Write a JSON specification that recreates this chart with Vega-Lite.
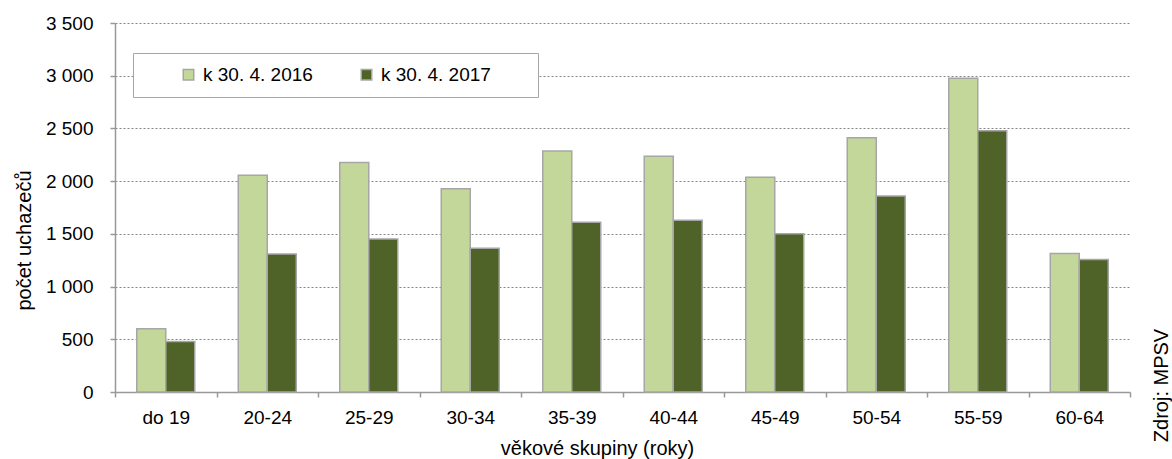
{
  "$schema": "https://vega.github.io/schema/vega-lite/v6.json",
  "width": 1015,
  "height": 369,
  "autosize": {"type": "none"},
  "padding": {"left": 115, "top": 23, "right": 42, "bottom": 67},
  "background": "white",
  "config": {
    "font": "Liberation Sans",
    "view": {"stroke": null},
    "axis": {
      "labelFont": "Liberation Sans",
      "titleFont": "Liberation Sans",
      "labelFontSize": 19,
      "titleFontSize": 20,
      "titleFontWeight": "normal",
      "labelColor": "#000000",
      "titleColor": "#000000",
      "domainColor": "#999999",
      "domainWidth": 1.5,
      "tickColor": "#999999",
      "tickWidth": 1.5,
      "tickSize": 5
    }
  },
  "data": {
    "values": [
      {"group": "do 19", "series": "k 30. 4. 2016", "value": 600},
      {"group": "do 19", "series": "k 30. 4. 2017", "value": 478},
      {"group": "20-24", "series": "k 30. 4. 2016", "value": 2055},
      {"group": "20-24", "series": "k 30. 4. 2017", "value": 1310},
      {"group": "25-29", "series": "k 30. 4. 2016", "value": 2178},
      {"group": "25-29", "series": "k 30. 4. 2017", "value": 1452},
      {"group": "30-34", "series": "k 30. 4. 2016", "value": 1929},
      {"group": "30-34", "series": "k 30. 4. 2017", "value": 1363},
      {"group": "35-39", "series": "k 30. 4. 2016", "value": 2286},
      {"group": "35-39", "series": "k 30. 4. 2017", "value": 1610},
      {"group": "40-44", "series": "k 30. 4. 2016", "value": 2235},
      {"group": "40-44", "series": "k 30. 4. 2017", "value": 1628},
      {"group": "45-49", "series": "k 30. 4. 2016", "value": 2036},
      {"group": "45-49", "series": "k 30. 4. 2017", "value": 1500},
      {"group": "50-54", "series": "k 30. 4. 2016", "value": 2412},
      {"group": "50-54", "series": "k 30. 4. 2017", "value": 1860},
      {"group": "55-59", "series": "k 30. 4. 2016", "value": 2975},
      {"group": "55-59", "series": "k 30. 4. 2017", "value": 2479},
      {"group": "60-64", "series": "k 30. 4. 2016", "value": 1313},
      {"group": "60-64", "series": "k 30. 4. 2017", "value": 1256}
    ]
  },
  "layer": [
    {
      "mark": {"type": "bar", "stroke": "#A6A6A6", "strokeWidth": 1.5},
      "encoding": {
        "x": {
          "field": "group",
          "type": "nominal",
          "sort": null,
          "scale": {"paddingInner": 0, "paddingOuter": 0},
          "axis": {
            "labelAngle": 0,
            "tickBand": "extent",
            "labelPadding": 11,
            "grid": false,
            "title": "věkové skupiny (roky)",
            "titleX": 482,
            "titleY": 46,
            "titleBaseline": "top",
            "titleAnchor": "start",
            "titleAlign": "center"
          }
        },
        "xOffset": {
          "field": "series",
          "type": "nominal",
          "scale": {"paddingInner": 0, "paddingOuter": 0.75}
        },
        "y": {
          "field": "value",
          "type": "quantitative",
          "scale": {"domain": [0, 3500]},
          "axis": {
            "values": [0, 500, 1000, 1500, 2000, 2500, 3000, 3500],
            "labelExpr": "replace(format(datum.value, ','), ',', ' ')",
            "labelPadding": 17,
            "grid": true,
            "gridColor": "#868686",
            "gridDash": [2, 2],
            "gridWidth": 1,
            "title": "počet uchazečů",
            "titleAngle": 270,
            "titleX": -91,
            "titleY": 217,
            "titleBaseline": "middle",
            "titleAlign": "center"
          }
        },
        "color": {
          "field": "series",
          "type": "nominal",
          "scale": {"range": ["#C4D79B", "#4F6228"]},
          "legend": {
            "title": null,
            "orient": "none",
            "legendX": 18,
            "legendY": 30,
            "direction": "horizontal",
            "fillColor": "white",
            "strokeColor": "#A6A6A6",
            "padding": 12,
            "symbolType": "square",
            "symbolSize": 110,
            "symbolStrokeColor": "#A6A6A6",
            "symbolStrokeWidth": 1.5,
            "symbolOffset": 34,
            "labelFontSize": 19,
            "labelFont": "Liberation Sans",
            "labelColor": "#000000",
            "labelOffset": 5,
            "columnPadding": 10,
            "labelExpr": "datum.label == 'k 30. 4. 2017' ? datum.label + '\u00a0\u00a0\u00a0\u00a0\u2800' : datum.label"
          }
        }
      }
    },
    {
      "mark": {"type": "rule", "opacity": 0},
      "encoding": {
        "y": {
          "datum": 0,
          "type": "quantitative",
          "axis": {
            "orient": "right",
            "labels": false,
            "ticks": false,
            "domain": false,
            "grid": false,
            "title": "Zdroj: MPSV",
            "titleAngle": 270,
            "titleX": 31,
            "titleY": 362,
            "titleBaseline": "middle",
            "titleAlign": "center"
          }
        }
      }
    }
  ],
  "resolve": {"axis": {"y": "independent"}}
}
